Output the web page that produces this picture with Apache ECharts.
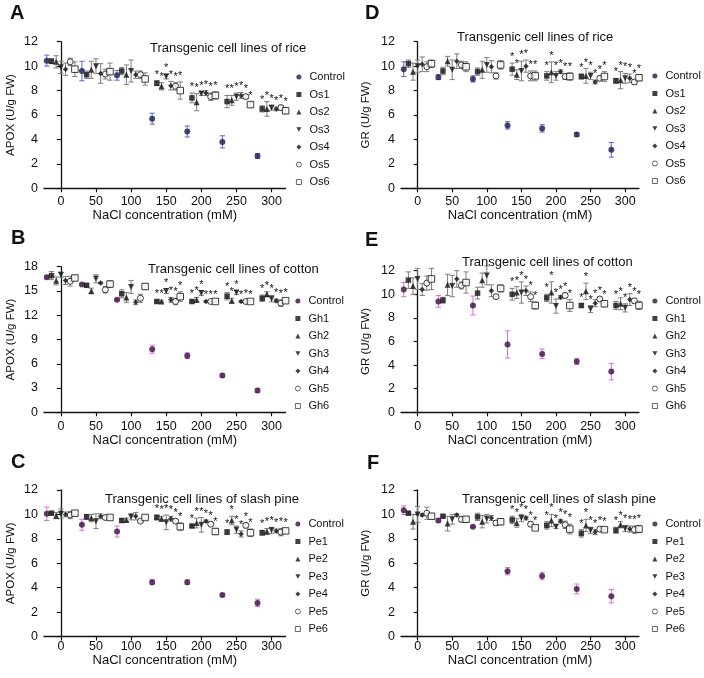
<!DOCTYPE html>
<html><head><meta charset="utf-8">
<script src="https://cdn.jsdelivr.net/npm/echarts@6/dist/echarts.min.js"></script>
<style>html,body{margin:0;padding:0;background:#fff}#c{width:704px;height:678px}</style>
</head><body><div id="c"></div>
<script>
// ---------------- DATA ----------------
const concentrations = [0, 50, 100, 150, 200, 250, 300];
const starredConcentrations = [150, 200, 250, 300];
const yTicks12 = [0, 2, 4, 6, 8, 10, 12];
const yTicks18 = [0, 3, 6, 9, 12, 15, 18];
const riceLines = ['Control', 'Os1', 'Os2', 'Os3', 'Os4', 'Os5', 'Os6'];
const cottonLines = ['Control', 'Gh1', 'Gh2', 'Gh3', 'Gh4', 'Gh5', 'Gh6'];
const pineLines = ['Control', 'Pe1', 'Pe2', 'Pe3', 'Pe4', 'Pe5', 'Pe6'];

// A: APOX, rice (rows = lines, cols = concentrations)
const apoxRiceMean = [
  [10.45, 9.6, 9.25, 5.7, 4.65, 3.8, 2.65],
  [10.4, 9.3, 9.6, 8.6, 7.4, 7.1, 6.5],
  [10.35, 9.7, 9.3, 8.35, 7.05, 7.2, 6.5],
  [9.9, 10.0, 9.6, 9.15, 7.75, 7.5, 6.6],
  [9.75, 9.4, 9.3, 8.4, 7.8, 7.6, 6.5],
  [10.35, 9.35, 9.3, 8.35, 7.5, 7.5, 6.6],
  [9.75, 9.55, 8.95, 8.0, 7.6, 6.85, 6.35]
];
const apoxRiceErr = [
  [0.45, 0.8, 0.4, 0.45, 0.45, 0.5, 0.2],
  [0.2, 0.3, 0.3, 0.2, 0.4, 0.5, 0.25],
  [0.5, 0.7, 0.8, 0.3, 0.7, 0.4, 0.6],
  [0.5, 0.6, 0.9, 0.2, 0.15, 0.3, 0.2],
  [0.5, 0.8, 0.3, 0.35, 0.2, 0.25, 0.15],
  [0.3, 0.4, 0.3, 0.3, 0.3, 0.15, 0.2],
  [0.6, 0.7, 0.5, 0.7, 0.3, 0.2, 0.25]
];
// D: GR, rice
const grRiceMean = [
  [9.75, 9.1, 8.95, 5.15, 4.9, 4.4, 3.15],
  [10.2, 9.6, 9.55, 9.75, 9.2, 9.15, 8.8],
  [9.55, 10.4, 9.7, 9.3, 9.5, 9.2, 8.85],
  [10.0, 9.7, 10.1, 9.6, 9.2, 9.2, 9.0],
  [10.15, 10.4, 9.95, 10.0, 9.55, 8.7, 9.0],
  [9.95, 10.1, 9.2, 9.2, 9.15, 9.0, 8.7],
  [10.2, 9.95, 10.1, 9.2, 9.15, 9.15, 9.05]
];
const grRiceErr = [
  [0.6, 0.2, 0.25, 0.3, 0.3, 0.15, 0.6],
  [0.3, 0.3, 0.3, 0.5, 0.35, 0.2, 0.2],
  [0.7, 0.4, 0.7, 0.4, 0.85, 0.6, 0.7],
  [0.5, 0.8, 0.6, 0.8, 0.35, 0.3, 0.4],
  [0.6, 0.6, 0.5, 0.5, 0.15, 0.15, 0.35],
  [0.4, 0.3, 0.25, 0.4, 0.25, 0.2, 0.2],
  [0.3, 0.4, 0.35, 0.4, 0.3, 0.4, 0.25]
];
// B: APOX, cotton
const apoxCottonMean = [
  [16.7, 15.8, 13.9, 7.8, 7.0, 4.55, 2.7],
  [16.9, 15.7, 14.65, 13.7, 13.7, 14.35, 14.1],
  [16.25, 15.0, 14.2, 13.7, 13.9, 13.8, 14.6],
  [17.0, 16.5, 15.5, 15.0, 14.75, 14.8, 14.05],
  [16.3, 16.0, 13.6, 13.9, 13.7, 13.7, 13.8],
  [16.2, 15.15, 14.1, 13.7, 13.7, 13.7, 13.5],
  [16.6, 15.85, 15.55, 14.3, 13.7, 13.7, 13.8]
];
const apoxCottonErr = [
  [0.2, 0.15, 0.1, 0.5, 0.35, 0.2, 0.25],
  [0.5, 0.2, 0.5, 0.15, 0.15, 0.45, 0.4],
  [0.5, 0.35, 0.6, 0.15, 0.3, 0.3, 0.3],
  [0.3, 0.5, 0.8, 0.3, 0.3, 0.25, 0.4],
  [0.5, 0.1, 0.3, 0.3, 0.1, 0.1, 0.2],
  [0.6, 0.4, 0.5, 0.4, 0.1, 0.15, 0.4],
  [0.3, 0.4, 0.35, 0.6, 0.1, 0.1, 0.2]
];
// E: GR, cotton
const grCottonMean = [
  [10.4, 9.4, 9.05, 5.75, 4.95, 4.3, 3.45],
  [11.2, 9.5, 10.1, 10.0, 9.7, 9.05, 9.05],
  [10.7, 10.8, 11.2, 10.15, 10.15, 10.25, 9.2],
  [11.3, 10.7, 11.6, 10.15, 9.0, 8.75, 8.85],
  [10.4, 11.3, 10.3, 10.3, 9.75, 9.25, 9.55],
  [10.95, 10.75, 9.8, 9.8, 9.9, 9.6, 9.45],
  [11.3, 11.0, 10.5, 9.05, 9.05, 9.2, 9.05]
];
const grCottonErr = [
  [0.6, 0.5, 0.8, 1.15, 0.4, 0.25, 0.7],
  [0.7, 0.25, 0.5, 0.5, 0.3, 0.15, 0.35],
  [0.7, 0.9, 0.6, 0.5, 0.9, 0.7, 0.5],
  [0.9, 0.9, 0.8, 0.9, 0.6, 0.3, 0.35],
  [0.5, 0.7, 0.5, 0.4, 0.15, 0.3, 0.5],
  [0.6, 0.3, 0.15, 0.4, 0.2, 0.15, 0.2],
  [0.9, 0.9, 0.3, 0.3, 0.5, 0.25, 0.35]
];
// C: APOX, slash pine
const apoxPineMean = [
  [10.05, 9.15, 8.6, 4.45, 4.45, 3.4, 2.75],
  [10.1, 9.8, 9.5, 9.75, 9.05, 8.55, 8.5],
  [9.9, 9.7, 9.55, 9.65, 9.3, 9.5, 8.6],
  [10.05, 9.45, 9.8, 9.35, 9.15, 8.75, 8.7],
  [10.0, 9.85, 9.85, 9.65, 9.45, 8.4, 8.65],
  [9.95, 9.75, 9.45, 9.45, 9.2, 9.1, 8.55],
  [10.1, 9.75, 9.75, 9.0, 8.6, 8.5, 8.65]
];
const apoxPineErr = [
  [0.55, 0.45, 0.45, 0.2, 0.2, 0.1, 0.3],
  [0.1, 0.2, 0.15, 0.2, 0.1, 0.2, 0.2],
  [0.25, 0.3, 0.15, 0.2, 0.4, 0.35, 0.25],
  [0.4, 0.6, 0.25, 0.6, 0.6, 0.3, 0.25],
  [0.2, 0.2, 0.3, 0.2, 0.1, 0.25, 0.15],
  [0.3, 0.15, 0.1, 0.15, 0.15, 0.2, 0.3],
  [0.2, 0.1, 0.15, 0.3, 0.25, 0.3, 0.15]
];
// F: GR, slash pine
const grPineMean = [
  [10.35, 9.5, 9.0, 5.35, 4.95, 3.9, 3.3],
  [10.1, 9.85, 9.8, 9.55, 9.1, 8.45, 8.7],
  [9.4, 9.25, 9.4, 9.3, 9.5, 9.1, 9.15],
  [10.0, 9.6, 9.65, 9.7, 9.0, 8.7, 8.85],
  [9.95, 9.95, 9.7, 9.7, 9.45, 8.55, 8.8],
  [10.1, 9.6, 9.3, 9.2, 9.15, 8.8, 8.75],
  [9.85, 9.6, 9.4, 8.9, 8.8, 8.75, 8.8]
];
const grPineErr = [
  [0.35, 0.15, 0.05, 0.3, 0.3, 0.4, 0.55],
  [0.1, 0.1, 0.3, 0.3, 0.3, 0.3, 0.25],
  [0.6, 0.6, 0.5, 0.35, 0.5, 0.5, 0.25],
  [0.65, 0.4, 0.35, 0.3, 0.15, 0.25, 0.25],
  [0.1, 0.1, 0.2, 0.15, 0.15, 0.2, 0.25],
  [0.5, 0.2, 0.2, 0.2, 0.3, 0.15, 0.3],
  [0.2, 0.2, 0.25, 0.1, 0.4, 0.15, 0.3]
];

// ---------------- STYLE / LAYOUT ----------------
const FONT = '"Liberation Sans", Arial, Helvetica, sans-serif';
const panels = [
  {id:'A', lines:riceLines, mean:apoxRiceMean, err:apoxRiceErr, yName:'APOX (U/g FW)', title:'Transgenic cell lines of rice', yMax:12, yTicks:yTicks12, ctrlMark:'#1c1c4a', ctrlBar:'#5468dc',
   grid:{left:44, width:241.6, top:41.7, height:146.6}, labelMargin:7, nameGap:21, yNameGap:27, titlePos:[150,42], letterPos:[10,3], legendPos:[296,71]},
  {id:'D', lines:riceLines, mean:grRiceMean, err:grRiceErr, yName:'GR (U/g FW)', title:'Transgenic cell lines of rice', yMax:12, yTicks:yTicks12, ctrlMark:'#1c1c4a', ctrlBar:'#5468dc',
   grid:{left:401, width:238, top:41.7, height:146.6}, labelMargin:7, nameGap:21, yNameGap:29, titlePos:[457,31], letterPos:[365,3], legendPos:[652,70]},
  {id:'B', lines:cottonLines, mean:apoxCottonMean, err:apoxCottonErr, yName:'APOX (U/g FW)', title:'Transgenic cell lines of cotton', yMax:18, yTicks:yTicks18, ctrlMark:'#3a1040', ctrlBar:'#e068e0',
   grid:{left:44, width:241.6, top:266.7, height:145.6}, labelMargin:8, nameGap:21, yNameGap:27, titlePos:[148,263], letterPos:[11,228], legendPos:[295,295]},
  {id:'E', lines:cottonLines, mean:grCottonMean, err:grCottonErr, yName:'GR (U/g FW)', title:'Transgenic cell lines of cotton', yMax:12, yTicks:yTicks12, ctrlMark:'#3a1040', ctrlBar:'#e068e0',
   grid:{left:401, width:238, top:270.7, height:141.6}, labelMargin:8, nameGap:21, yNameGap:29, titlePos:[462,256], letterPos:[365,230], legendPos:[652,295]},
  {id:'C', lines:pineLines, mean:apoxPineMean, err:apoxPineErr, yName:'APOX (U/g FW)', title:'Transgenic cell lines of slash pine', yMax:12, yTicks:yTicks12, ctrlMark:'#3a1040', ctrlBar:'#e068e0',
   grid:{left:44, width:241.6, top:490, height:146.5}, labelMargin:4, nameGap:17, yNameGap:27, titlePos:[105,493], letterPos:[11,452], legendPos:[295,518]},
  {id:'F', lines:pineLines, mean:grPineMean, err:grPineErr, yName:'GR (U/g FW)', title:'Transgenic cell lines of slash pine', yMax:12, yTicks:yTicks12, ctrlMark:'#3a1040', ctrlBar:'#e068e0',
   grid:{left:401, width:238, top:490, height:146.5}, labelMargin:4, nameGap:17, yNameGap:29, titlePos:[462,493], letterPos:[367,453], legendPos:[652,518]}
];
const DOWN_TRI = 'path://M0,0 L10,0 L5,9 Z';
const lineSymbols = ['circle', 'rect', 'triangle', DOWN_TRI, 'diamond', 'circle', 'rect'];
const lineSizes = [6, 5.5, 6, 6, 5.5, 6, 6.5];
const X_MIN = -24, X_MAX = 320, GROUP_HALF = 20;

function xPos(c, k) { return c - GROUP_HALF + k * (2 * GROUP_HALF / 6); }

const grids = [], xAxes = [], yAxes = [], series = [], legends = [], titles = [];
panels.forEach((p, i) => {
  grids.push(Object.assign({containLabel:false}, p.grid));
  xAxes.push({
    type:'value', gridIndex:i, min:X_MIN, max:X_MAX,
    name:'NaCl concentration (mM)', nameLocation:'middle', nameGap:p.nameGap,
    nameTextStyle:{fontFamily:FONT, fontSize:13, color:'#111'},
    axisLine:{lineStyle:{color:'#111', width:1.3}},
    axisTick:{show:true, length:4, lineStyle:{color:'#111', width:1.2}, customValues:concentrations},
    axisLabel:{customValues:concentrations, margin:p.labelMargin, fontFamily:FONT, fontSize:12.5, color:'#111'},
    splitLine:{show:false}
  });
  yAxes.push({
    type:'value', gridIndex:i, min:0, max:p.yMax,
    name:p.yName, nameLocation:'middle', nameGap:p.yNameGap, nameRotate:90,
    nameTextStyle:{fontFamily:FONT, fontSize:11.5, color:'#111'},
    axisLine:{show:true, lineStyle:{color:'#111', width:1.3}},
    axisTick:{show:true, length:4, lineStyle:{color:'#111', width:1.2}, customValues:p.yTicks},
    axisLabel:{customValues:p.yTicks, margin:6, fontFamily:FONT, fontSize:12.5, color:'#111'},
    splitLine:{show:false}
  });
  titles.push({text:p.title, left:p.titlePos[0], top:p.titlePos[1], padding:0,
    textStyle:{fontFamily:FONT, fontSize:13, fontWeight:'normal', color:'#111'}});
  titles.push({text:p.id, left:p.letterPos[0], top:p.letterPos[1], padding:0,
    textStyle:{fontFamily:FONT, fontSize:20, fontWeight:'bold', color:'#111'}});

  // error bars + significance stars
  const errData = [];
  p.lines.forEach((ln, k) => {
    concentrations.forEach((c, j) => {
      const star = (k > 0 && starredConcentrations.indexOf(c) >= 0) ? 1 : 0;
      errData.push([xPos(c, k), p.mean[k][j], p.err[k][j], star, k === 0 ? 1 : 0]);
    });
  });
  const barColor = p.ctrlBar;
  series.push({
    type:'custom', xAxisIndex:i, yAxisIndex:i, silent:true, z:1,
    encode:{x:0, y:1},
    data:errData,
    renderItem:function(params, api){
      const x = api.value(0), y = api.value(1), e = api.value(2), star = api.value(3), ctrl = api.value(4);
      const top = api.coord([x, y + e]), bot = api.coord([x, y - e]);
      const col = ctrl ? barColor : '#7d7d7d';
      const hw = 2.6;
      const st = {stroke:col, lineWidth:1};
      const ch = [
        {type:'line', shape:{x1:top[0], y1:top[1], x2:bot[0], y2:bot[1]}, style:st},
        {type:'line', shape:{x1:top[0]-hw, y1:top[1], x2:top[0]+hw, y2:top[1]}, style:st},
        {type:'line', shape:{x1:bot[0]-hw, y1:bot[1], x2:bot[0]+hw, y2:bot[1]}, style:st}
      ];
      if (star) ch.push({type:'text', style:{text:'*', x:top[0], y:top[1]-0.5, align:'center', verticalAlign:'bottom', fontSize:11, fontFamily:FONT, fill:'#111'}});
      return {type:'group', children:ch};
    }
  });

  const names = [];
  p.lines.forEach((ln, k) => {
    const nm = p.id + '|' + ln;
    names.push(nm);
    const open = (k === 5 || k === 6);
    series.push({
      type:'scatter', name:nm, xAxisIndex:i, yAxisIndex:i, z:3, silent:true,
      symbol:lineSymbols[k], symbolSize:lineSizes[k],
      itemStyle: open ? {color:'#fff', borderColor:'#111', borderWidth:1}
                      : {color: k === 0 ? p.ctrlMark : '#111', borderWidth:0},
      data: p.mean[k].map((v, j) => [xPos(concentrations[j], k), v])
    });
  });
  legends.push({
    orient:'vertical', left:p.legendPos[0], top:p.legendPos[1], padding:0,
    itemWidth:5, itemHeight:5, itemGap:5.5, selectedMode:false,
    itemStyle:{borderWidth:0.8},
    data:names, formatter:n => n.split('|')[1],
    textStyle:{fontFamily:FONT, fontSize:11, color:'#111', lineHeight:12, padding:[0,0,0,3]}
  });
});

const chart = echarts.init(document.getElementById('c'), null, {renderer:'canvas'});
chart.setOption({
  animation:false, backgroundColor:'#fff',
  title:titles, grid:grids, xAxis:xAxes, yAxis:yAxes, legend:legends, series:series
});
</script></body></html>
